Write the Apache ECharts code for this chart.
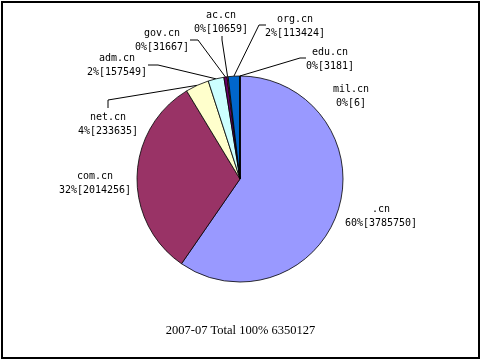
<!DOCTYPE html>
<html>
<head>
<meta charset="utf-8">
<script src="https://cdn.jsdelivr.net/npm/echarts@6/dist/echarts.min.js"></script>
<style>
html,body{margin:0;padding:0;background:#fff;}
#chart{width:481px;height:359px;}
</style>
</head>
<body>
<div id="chart"></div>
<script>
// Data
var categories = ['.cn', 'com.cn', 'net.cn', 'adm.cn', 'gov.cn', 'ac.cn', 'org.cn', 'edu.cn', 'mil.cn'];
var values = [3785750, 2014256, 233635, 157549, 31667, 10659, 113424, 3181, 6];
var titleText = '2007-07 Total 100% 6350127';

// Styling / layout (not data)
var colors = ['#9999FF', '#993366', '#FFFFCC', '#CCFFFF', '#660066', '#FF8080', '#0066CC', '#CCCCFF', '#000080'];
var noLine = {'.cn': true, 'com.cn': true, 'mil.cn': true};
var labelPlace = {
  '.cn':    {x: 381, y: 216},
  'com.cn': {x: 95,  y: 183},
  'net.cn': {x: 108, y: 124, line: [[108, 100], [108, 108]]},
  'adm.cn': {x: 117, y: 65.5, line: [[158, 65], [148, 65]]},
  'gov.cn': {x: 162, y: 40.5, line: [[198, 40], [190, 40]]},
  'ac.cn':  {x: 221, y: 22.5, line: [[222, 40], [222, 36]]},
  'org.cn': {x: 295, y: 26, line: [[259, 25], [266, 25]]},
  'edu.cn': {x: 330, y: 59, line: [[300, 58], [306, 58]]},
  'mil.cn': {x: 351, y: 96}
};

var total = values.reduce(function (a, b) { return a + b; }, 0);
var pieData = categories.map(function (c, i) {
  var d = {name: c, value: values[i], itemStyle: {color: colors[i]}};
  if (noLine[c]) d.labelLine = {show: false};
  return d;
});

var chart = echarts.init(document.getElementById('chart'), null, {renderer: 'canvas'});
chart.setOption({
  animation: false,
  backgroundColor: '#ffffff',
  graphic: [{
    type: 'rect',
    shape: {x: 2, y: 2, width: 477, height: 356},
    style: {fill: 'none', stroke: '#000', lineWidth: 2},
    z: 100
  }, {
    type: 'text',
    left: 'center',
    top: 324,
    style: {
      text: titleText,
      font: '12.5px "Liberation Serif", "Times New Roman", serif',
      fill: '#000'
    }
  }],
  series: [{
    type: 'pie',
    center: [240, 179],
    radius: [0, 103],
    startAngle: 90,
    clockwise: true,
    avoidLabelOverlap: false,
    minAngle: 0,
    itemStyle: {borderColor: '#000', borderWidth: 0.8},
    label: {
      show: true,
      position: 'outside',
      fontFamily: '"DejaVu Sans Mono", monospace',
      fontSize: 10,
      color: '#000',
      lineHeight: 14,
      align: 'center',
      formatter: function (p) {
        return p.name + '\n' + Math.round(p.value / total * 100) + '%[' + p.value + ']';
      }
    },
    labelLine: {show: true, lineStyle: {color: '#000', width: 1}, length: 10, length2: 10},
    labelLayout: function (params) {
      var name = categories[params.dataIndex];
      var pl = labelPlace[name];
      var res = {x: pl.x, y: pl.y, align: 'center', verticalAlign: 'middle'};
      if (pl.line && params.labelLinePoints) {
        var a = params.labelLinePoints[0];
        res.labelLinePoints = [[a[0], a[1]], pl.line[0], pl.line[1]];
      }
      return res;
    },
    emphasis: {disabled: true},
    data: pieData
  }]
});
</script>
</body>
</html>
